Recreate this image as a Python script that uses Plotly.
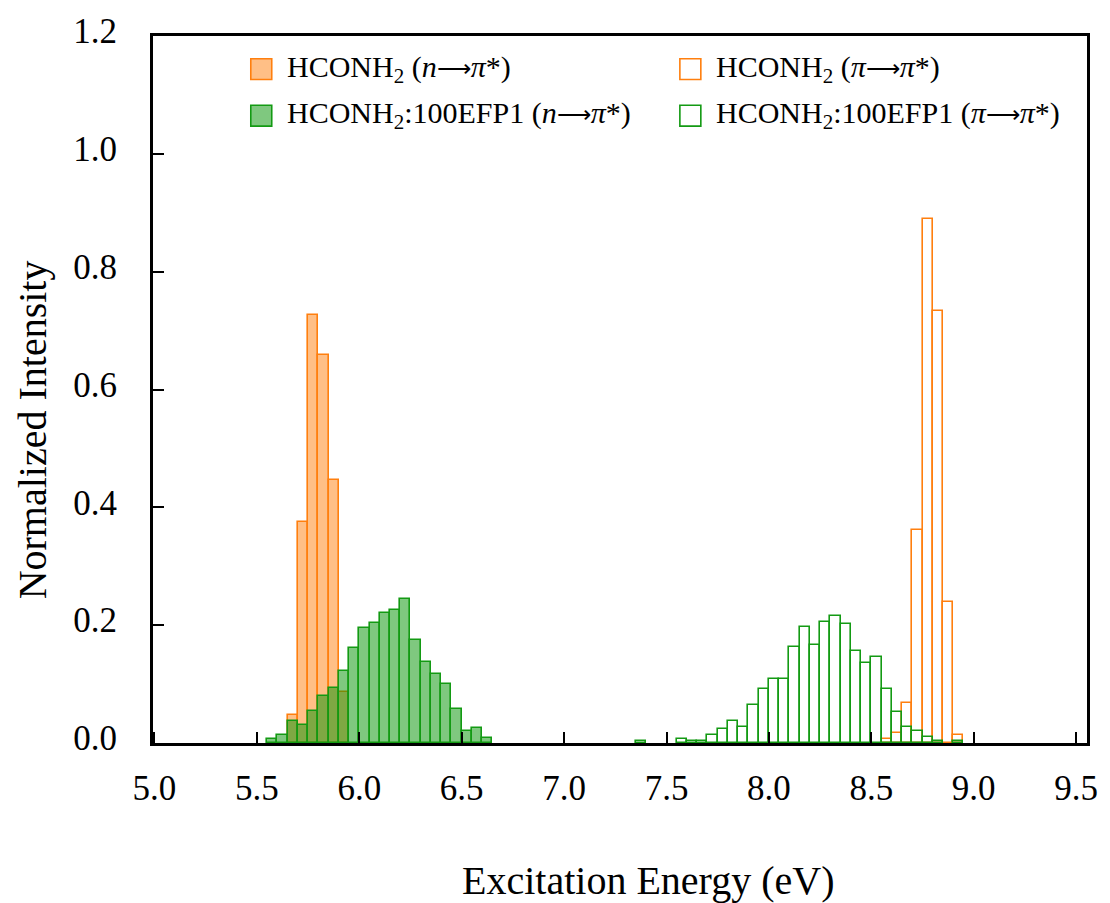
import plotly.graph_objects as go

# Histogram bins (eV, bin centres) and normalized intensities
bin_width = 0.05

gas_n_x = [5.675, 5.725, 5.775, 5.825, 5.875, 5.925]
gas_n_y = [0.047, 0.375, 0.727, 0.659, 0.446, 0.087]

efp_n_x = [5.575, 5.625, 5.675, 5.725, 5.775, 5.825, 5.875, 5.925, 5.975, 6.025, 6.075,
           6.125, 6.175, 6.225, 6.275, 6.325, 6.375, 6.425, 6.475, 6.525, 6.575, 6.625]
efp_n_y = [0.007, 0.013, 0.038, 0.030, 0.055, 0.080, 0.094, 0.123, 0.162, 0.196, 0.204,
           0.221, 0.225, 0.244, 0.174, 0.137, 0.117, 0.100, 0.058, 0.020, 0.026, 0.009]

gas_pi_x = [8.575, 8.625, 8.675, 8.725, 8.775, 8.825, 8.875, 8.925]
gas_pi_y = [0.007, 0.017, 0.068, 0.362, 0.889, 0.734, 0.240, 0.014]

efp_pi_x = [7.375, 7.575, 7.625, 7.675, 7.725, 7.775, 7.825, 7.875, 7.925, 7.975, 8.025,
            8.075, 8.125, 8.175, 8.225, 8.275, 8.325, 8.375, 8.425, 8.475, 8.525, 8.575,
            8.625, 8.675, 8.725, 8.775, 8.825, 8.925]
efp_pi_y = [0.004, 0.007, 0.004, 0.004, 0.013, 0.024, 0.038, 0.027, 0.064, 0.092, 0.109,
            0.109, 0.163, 0.197, 0.166, 0.205, 0.216, 0.202, 0.157, 0.135, 0.146, 0.092,
            0.052, 0.027, 0.020, 0.010, 0.003, 0.003]

ARROW = '<span style="font-size:24px">⟶</span>'
legend_labels = [
    f"HCONH<sub>2</sub> (<i>n</i>{ARROW}<i>π</i>*)",
    f"HCONH<sub>2</sub>:100EFP1 (<i>n</i>{ARROW}<i>π</i>*)",
    f"HCONH<sub>2</sub> (<i>π</i>{ARROW}<i>π</i>*)",
    f"HCONH<sub>2</sub>:100EFP1 (<i>π</i>{ARROW}<i>π</i>*)",
]

x_ticks = [5.0, 5.5, 6.0, 6.5, 7.0, 7.5, 8.0, 8.5, 9.0, 9.5]
y_ticks = [0.0, 0.2, 0.4, 0.6, 0.8, 1.0, 1.2]

ORANGE = "#ff7f0e"
ORANGE_FILL = "rgba(255,127,14,0.5)"
GREEN = "#139a13"
GREEN_FILL = "rgba(0,145,0,0.5)"
NONE = "rgba(0,0,0,0)"
FONT = "Liberation Serif"

styles = [(ORANGE_FILL, ORANGE), (GREEN_FILL, GREEN), (NONE, ORANGE), (NONE, GREEN)]
series = [(gas_n_x, gas_n_y), (efp_n_x, efp_n_y), (gas_pi_x, gas_pi_y), (efp_pi_x, efp_pi_y)]

fig = go.Figure()
for (xs, ys), (fill, line), name in zip(series, styles, legend_labels):
    fig.add_trace(go.Bar(
        x=xs, y=ys, width=bin_width, name=name, showlegend=False,
        marker=dict(color=fill, line=dict(color=line, width=1.6)),
    ))

# Plot-area geometry in pixels
L, R, T, B = 153, 1089, 29, 743
W, H = R - L, B - T


def px_x(p):
    return (p - L) / W


def px_y(p):
    return (B - p) / H


# Two-column legend drawn as swatches + labels
legend_pos = [(251, 52), (251, 99), (681, 52), (681, 99)]
for (sx, sy), (fill, line), name in zip(legend_pos, styles, legend_labels):
    fig.add_shape(type="rect", xref="paper", yref="paper",
                  x0=px_x(sx), x1=px_x(sx + 21), y0=px_y(sy), y1=px_y(sy + 21),
                  fillcolor=fill if fill != NONE else "white",
                  line=dict(color=line, width=1.6))
    fig.add_annotation(xref="paper", yref="paper", x=px_x(sx + 34), y=px_y(sy + 10),
                       xanchor="left", yanchor="middle", showarrow=False, text=name,
                       font=dict(family=FONT, size=30, color="black"))

# Axis titles
fig.add_annotation(xref="paper", yref="paper", x=px_x(649), y=px_y(882),
                   xanchor="center", yanchor="middle", showarrow=False,
                   text="Excitation Energy (eV)",
                   font=dict(family=FONT, size=40, color="black"))
fig.add_annotation(xref="paper", yref="paper", x=px_x(32), y=px_y(427),
                   xanchor="center", yanchor="middle", showarrow=False, textangle=-90,
                   text="Normalized Intensity",
                   font=dict(family=FONT, size=40, color="black"))

axis_common = dict(
    showgrid=False, zeroline=False, showline=True, linecolor="black", linewidth=3,
    mirror=True, ticks="inside", ticklen=11, tickwidth=1.5, tickcolor="black",
    tickfont=dict(family=FONT, size=35, color="black"),
)

fig.update_layout(
    width=1110, height=903,
    margin=dict(l=L, r=1110 - R, t=T, b=903 - B),
    paper_bgcolor="white", plot_bgcolor="white",
    barmode="overlay", bargap=0,
    xaxis=dict(range=[4.993, 9.553], tickvals=x_ticks, tickformat=".1f",
               ticklabelstandoff=12, **axis_common),
    yaxis=dict(range=[0, 1.2], tickvals=y_ticks, tickformat=".1f",
               ticklabelstandoff=26, ticklabelshift=-5, **axis_common),
)

fig.write_html("out.html")
